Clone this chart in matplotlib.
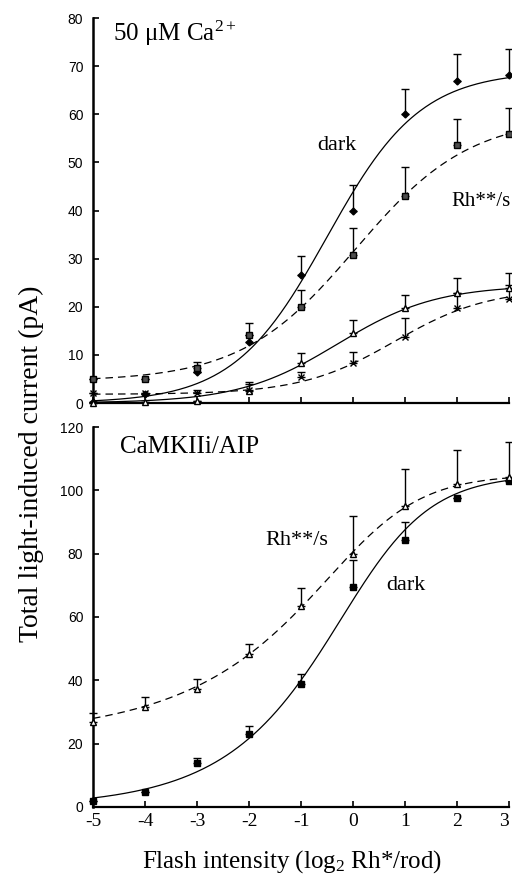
import numpy as np
import matplotlib
matplotlib.use("Agg")
import matplotlib.pyplot as plt

plt.rcParams["mathtext.fontset"] = "custom"
plt.rcParams["mathtext.rm"] = "Liberation Serif"
plt.rcParams["mathtext.it"] = "Liberation Serif:italic"
plt.rcParams["mathtext.bf"] = "Liberation Serif:bold"

# ---------------- data ----------------
flash = [-5, -4, -3, -2, -1, 0, 1, 2, 3]
xticks = [-5, -4, -3, -2, -1, 0, 1, 2, 3]

# top panel: 50 uM Ca2+
ca_dark = [0.2, 1.8, 6.5, 12.7, 26.6, 39.8, 60.0, 67.0, 68.2]
ca_dark_err = [0, 0, 0, 1.5, 4.0, 5.4, 5.3, 5.5, 5.4]
ca_rh = [5.0, 5.0, 7.2, 14.1, 20.0, 30.8, 43.0, 53.6, 55.9]
ca_rh_err = [0, 0, 1.3, 2.5, 3.5, 5.6, 6.0, 5.4, 5.3]
ca_tri = [0.0, 0.3, 0.5, 2.5, 8.3, 14.5, 19.8, 22.9, 23.9]
ca_tri_err = [0, 0, 0, 1.5, 2.1, 2.8, 2.6, 3.1, 3.1]
ca_x = [2.0, 2.0, 2.0, 2.8, 5.3, 8.3, 13.8, 19.8, 21.6]
ca_x_err = [0, 0, 0.6, 1.5, 1.2, 2.4, 3.9, 3.0, 3.0]

# bottom panel: CaMKIIi/AIP
aip_dark = [2.0, 4.7, 13.8, 23.0, 38.8, 69.6, 84.3, 97.7, 103.0]
aip_dark_err = [0, 0, 1.6, 2.6, 3.2, 8.4, 5.7, 0, 0]
aip_rh = [27.0, 31.5, 37.2, 48.3, 63.6, 79.9, 95.0, 102.0, 104.2]
aip_rh_err = [2.6, 3.2, 3.2, 3.2, 5.5, 12.0, 11.7, 10.7, 11.1]

# fitted curve parameters (base, amplitude, midpoint, slope, shape)
fit_ca_dark = (0.0, 69.0, -0.5, 0.9, 1.0)
fit_ca_rh = (4.5, 55.0, 0.05, 1.1, 1.0)
fit_ca_tri = (0.0, 24.5, -0.3, 0.95, 1.0)
fit_ca_x = (1.8, 22.0, 0.8, 0.9, 1.0)
fit_aip_dark = (0.0, 105.0, 0.25, 0.8, 0.55)
fit_aip_rh = (22.0, 83.0, 0.262, 0.8, 0.4)


def fit_curve(xx, params):
    base, amp, x0, s, p = params
    return base + amp * (1.0 + np.exp(-(xx - x0) / s)) ** (-p)


SERIF = ["Liberation Serif", "DejaVu Serif"]
SANS = ["Liberation Sans", "DejaVu Sans"]

fig = plt.figure(figsize=(5.12, 8.83), dpi=100)
ax1 = fig.add_axes([93 / 512, 1 - 403 / 883, 416 / 512, 385 / 883])
ax2 = fig.add_axes([93 / 512, 1 - 807 / 883, 416 / 512, 380 / 883])

xx = np.linspace(-5, 3, 300)
DASH = (0, (6, 4))


def series(ax, y, err, fit, marker, ls, mfc, ms):
    ax.plot(xx, fit_curve(xx, fit), color="black", lw=0.9, ls=ls, clip_on=False, zorder=2)
    e = np.array(err, dtype=float)
    ax.errorbar(flash, y, yerr=[np.zeros_like(e), e], fmt="none", ecolor="black",
                elinewidth=1.0, capsize=2.8, capthick=1.0, clip_on=False, zorder=3)
    ax.plot(flash, y, ls="none", marker=marker, ms=ms, mfc=mfc, mec="black",
            mew=1.0, clip_on=False, zorder=4)


series(ax1, ca_dark, ca_dark_err, fit_ca_dark, "D", "-", "black", 3.5)
series(ax1, ca_rh, ca_rh_err, fit_ca_rh, "s", DASH, "0.3", 4.0)
series(ax1, ca_tri, ca_tri_err, fit_ca_tri, "^", "-", "white", 4.5)
series(ax1, ca_x, ca_x_err, fit_ca_x, "x", DASH, "black", 4.5)

series(ax2, aip_dark, aip_dark_err, fit_aip_dark, "s", "-", "black", 4.0)
series(ax2, aip_rh, aip_rh_err, fit_aip_rh, "^", DASH, "white", 4.5)

for ax, ymax, step in ((ax1, 80, 10), (ax2, 120, 20)):
    ax.set_xlim(-5, 3)
    ax.set_ylim(0, ymax)
    ax.set_xticks(xticks)
    ax.set_yticks(np.arange(0, ymax + 1, step))
    for sp in ("top", "right"):
        ax.spines[sp].set_visible(False)
    ax.spines["left"].set_linewidth(1.8)
    ax.spines["bottom"].set_linewidth(1.6)
    ax.tick_params(axis="both", direction="in", length=4, width=1.2)
    ax.tick_params(axis="y", pad=7)
    for lab in ax.get_yticklabels():
        lab.set_family(SANS)
        lab.set_fontsize(10)
    ax.patch.set_alpha(0)

ax1.set_xticklabels([])
ax2.set_xticklabels([str(v) for v in xticks], family=SERIF, fontsize=14)
ax2.get_xticklabels()[-1].set_horizontalalignment("right")
ax2.tick_params(axis="x", pad=4)

ax1.text(0.048, 0.961, "50 \u03bcM Ca$^{2+}$", transform=ax1.transAxes, family=SERIF,
         fontsize=18, va="center", ha="left")
ax1.text(-0.31, 53.6, "dark", family=SERIF, fontsize=16, ha="center", va="center")
fig.text(511 / 512, 1 - 201 / 883, "Rh**/s", family=SERIF, fontsize=15,
         ha="right", va="center")

ax2.text(0.065, 0.947, "CaMKIIi/AIP", transform=ax2.transAxes, family=SERIF,
         fontsize=18, va="center", ha="left")
ax2.text(-1.08, 84.3, "Rh**/s", family=SERIF, fontsize=16, ha="center", va="center")
ax2.text(1.02, 70.1, "dark", family=SERIF, fontsize=16, ha="center", va="center")

fig.text(31 / 512, 1 - 464 / 883, "Total light-induced current (pA)", rotation=90,
         family=SERIF, fontsize=20, ha="center", va="center")
fig.text(292 / 512, 1 - 862 / 883, "Flash intensity (log$_2$ Rh*/rod)",
         family=SERIF, fontsize=18, ha="center", va="center")

fig.savefig("out.png", dpi=100)
